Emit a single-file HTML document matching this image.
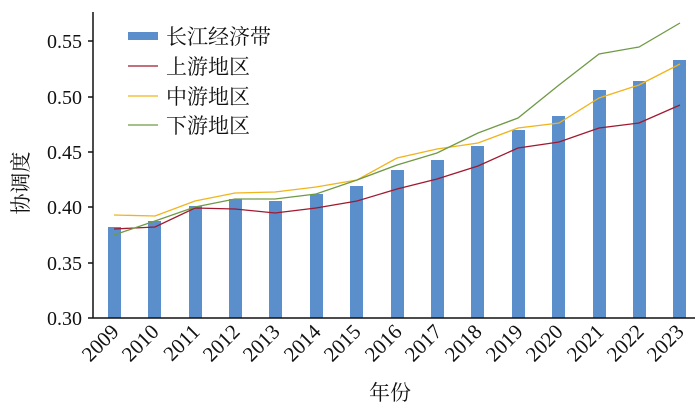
<!DOCTYPE html>
<html><head><meta charset="utf-8"><style>
body{margin:0;background:#fff;}
svg text{font-family:"Liberation Serif","Noto Serif CJK SC",serif;fill:#111;}
</style></head><body>
<svg width="700" height="404" viewBox="0 0 700 404" xmlns="http://www.w3.org/2000/svg">
<g fill="#5b8fcb">
<rect x="108" y="227" width="13" height="91"/>
<rect x="148" y="221" width="13" height="97"/>
<rect x="189" y="206" width="13" height="112"/>
<rect x="229" y="199" width="13" height="119"/>
<rect x="269" y="201" width="13" height="117"/>
<rect x="310" y="194" width="13" height="124"/>
<rect x="350" y="186" width="13" height="132"/>
<rect x="391" y="170" width="13" height="148"/>
<rect x="431" y="160" width="13" height="158"/>
<rect x="471" y="146" width="13" height="172"/>
<rect x="512" y="130" width="13" height="188"/>
<rect x="552" y="116" width="13" height="202"/>
<rect x="593" y="90" width="13" height="228"/>
<rect x="633" y="81" width="13" height="237"/>
<rect x="673" y="60" width="13" height="258"/>
</g>
<polyline fill="none" stroke="#a0192f" stroke-width="1.3" points="114,229 155,227 195,208 235,209 275,213 316,208 357,201 397,189 437,179 478,166 518,148 559,142 599,128 639,123 680,105"/>
<polyline fill="none" stroke="#f0b41c" stroke-width="1.3" points="114,215 155,216 195,201 235,193 275,192 316,187 357,180 397,158 437,149 478,143 518,128 559,123 599,98 639,85 680,64"/>
<polyline fill="none" stroke="#6f9a45" stroke-width="1.3" points="114,235 155,221 195,207 235,199 275,199 316,194 357,180 397,165 437,153 478,133 518,118 559,85 599,54 639,47 680,23"/>
<g stroke="#111" stroke-width="1.5">
<line x1="93" y1="12" x2="93" y2="318"/>
<line x1="93" y1="318" x2="695" y2="318"/>
<line x1="88" y1="41" x2="93" y2="41"/><line x1="88" y1="97" x2="93" y2="97"/>
<line x1="88" y1="152" x2="93" y2="152"/><line x1="88" y1="207" x2="93" y2="207"/>
<line x1="88" y1="263" x2="93" y2="263"/><line x1="88" y1="318" x2="93" y2="318"/>
</g>
<g font-size="20" text-anchor="end">
<text x="82" y="48">0.55</text><text x="82" y="104">0.50</text><text x="82" y="159">0.45</text>
<text x="82" y="214">0.40</text><text x="82" y="270">0.35</text><text x="82" y="325">0.30</text>
</g>
<g font-size="21" text-anchor="end">
<text transform="translate(120,333) rotate(-45)">2009</text>
<text transform="translate(160,333) rotate(-45)">2010</text>
<text transform="translate(201,333) rotate(-45)">2011</text>
<text transform="translate(241,333) rotate(-45)">2012</text>
<text transform="translate(281,333) rotate(-45)">2013</text>
<text transform="translate(322,333) rotate(-45)">2014</text>
<text transform="translate(362,333) rotate(-45)">2015</text>
<text transform="translate(403,333) rotate(-45)">2016</text>
<text transform="translate(443,333) rotate(-45)">2017</text>
<text transform="translate(483,333) rotate(-45)">2018</text>
<text transform="translate(524,333) rotate(-45)">2019</text>
<text transform="translate(564,333) rotate(-45)">2020</text>
<text transform="translate(605,333) rotate(-45)">2021</text>
<text transform="translate(645,333) rotate(-45)">2022</text>
<text transform="translate(685,333) rotate(-45)">2023</text>
</g>
<text x="390" y="400" font-size="21" text-anchor="middle">年份</text>
<text transform="translate(28,183) rotate(-90)" font-size="21" text-anchor="middle">协调度</text>
<rect x="128" y="32" width="30" height="8" fill="#5b8fcb"/>
<line x1="128" y1="66" x2="158" y2="66" stroke="#a0192f" stroke-width="1.3"/>
<line x1="128" y1="96" x2="158" y2="96" stroke="#f0b41c" stroke-width="1.3"/>
<line x1="128" y1="125" x2="158" y2="125" stroke="#6f9a45" stroke-width="1.3"/>
<g font-size="21">
<text x="166" y="44">长江经济带</text>
<text x="166" y="74">上游地区</text>
<text x="166" y="104">中游地区</text>
<text x="166" y="133">下游地区</text>
</g>
</svg>
</body></html>
